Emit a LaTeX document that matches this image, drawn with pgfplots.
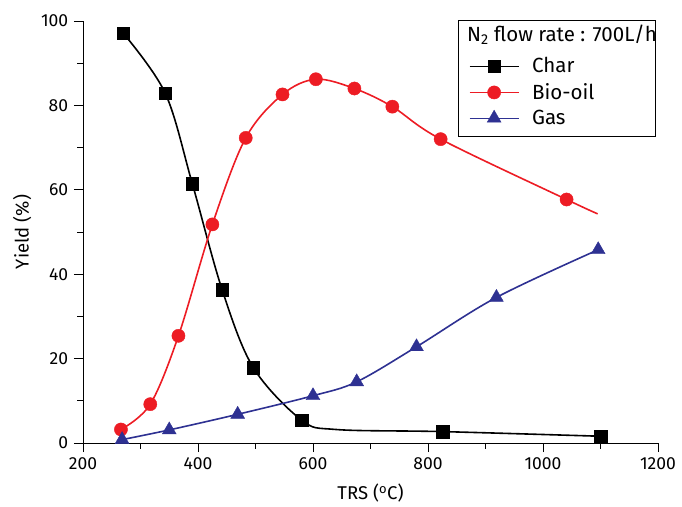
\documentclass[border=0pt]{standalone}
\usepackage{fontspec}
\setmainfont{Fira Sans}
\usepackage{pgfplots}
\pgfplotsset{compat=1.18}
\definecolor{oilred}{HTML}{ED1C24}
\definecolor{gasblue}{HTML}{2E3192}
\begin{document}
\fontsize{17}{20}\selectfont
\begin{tikzpicture}
\useasboundingbox (-83pt,-63pt) rectangle (599pt,443pt);
\begin{axis}[
  scale only axis, width=575pt, height=422pt,
  xmin=200, xmax=1200, ymin=0, ymax=100,
  axis lines*=left,
  axis line style={-, line width=0.9pt},
  xtick={200,400,...,1200}, ytick={0,20,...,100},
  minor x tick num=1, minor y tick num=1,
  tick align=outside, major tick length=9pt, minor tick length=5.5pt,
  every tick/.style={black, line width=0.9pt},
  tick label style={font=\fontsize{17.5}{20}\selectfont},
  /pgf/number format/assume math mode=true,
  /pgf/number format/1000 sep={},
  xlabel={TRS (\textsuperscript{o}C)}, ylabel={Yield (\%)},
  label style={font=\fontsize{18.5}{22}\selectfont},
  xlabel style={at={(axis description cs:0.5,-0.1185)}, anchor=center},
  ylabel style={at={(axis description cs:-0.106,0.5)}, anchor=center},
  clip=false,
  legend image code/.code={%
    \draw[mark repeat=2, mark phase=2, #1] plot coordinates {(0pt,0pt) (24.5pt,0pt) (49pt,0pt)};},
  legend style={at={(rel axis cs:0.6713,0.8318)}, anchor=west,
    draw=none, fill=none, font=\fontsize{20.5}{24}\selectfont,
    inner sep=0pt, nodes={inner sep=0pt}, column sep=13pt, row sep=8pt},
  legend cell align=left,
]
% fitted curves
\addplot[black, line width=1.6pt, smooth, tension=0.55, forget plot] coordinates {
  (270,97.1) (343,82.9) (390,61.5) (442,36.3) (496,17.9) (580,5.45) (640,3.2) (826,2.7) (1100,1.6)};
\addplot[oilred, line width=1.6pt, smooth, tension=0.55, forget plot] coordinates {
  (266,3.2) (317,9.2) (366,25.4) (425,51.8) (483,72.3) (547,82.6) (605,86.2) (672,84.0)
  (738,79.7) (822,72.0) (1041,57.7) (1095,54.3)};
\addplot[gasblue, line width=1.6pt, smooth, tension=0.55, forget plot] coordinates {
  (268,0.8) (350,3.1) (469,6.8) (600,11.2) (676,14.5) (780,22.8) (919,34.5) (1096,45.8)};
% measured points
\addplot[only marks, mark=square*, mark size=6.3pt, black, forget plot] coordinates {
  (270,97.1) (343,82.9) (390,61.5) (442,36.3) (496,17.9) (580,5.45) (826,2.7) (1100,1.6)};
\addplot[only marks, mark=*, mark size=6.6pt, oilred, forget plot] coordinates {
  (266,3.2) (317,9.2) (366,25.4) (425,51.8) (483,72.3) (547,82.6) (605,86.2) (672,84.0)
  (738,79.7) (822,72.0) (1041,57.7)};
\addplot[only marks, mark=triangle*, mark size=8pt, gasblue, forget plot] coordinates {
  (268,0.8) (350,3.1) (469,6.8) (600,11.2) (676,14.5) (780,22.8) (919,34.5) (1096,45.8)};
% legend entries
\addlegendimage{black, line width=0.9pt, mark=square*, mark size=6.3pt, mark options={line width=0.4pt}}
\addlegendentry{Char}
\addlegendimage{oilred, line width=0.9pt, mark=*, mark size=6.6pt, mark options={line width=0.4pt}}
\addlegendentry{Bio-oil}
\addlegendimage{gasblue, line width=0.9pt, mark=triangle*, mark size=8pt, mark options={line width=0.4pt}}
\addlegendentry{Gas}
% legend frame and heading
\draw[line width=0.9pt] (rel axis cs:0.6522,1.0024) rectangle (rel axis cs:0.9948,0.7275);
\node[anchor=west, inner sep=0pt, font=\fontsize{20.5}{24}\selectfont]
  at (rel axis cs:0.6678,0.9668) {N\textsubscript{2} flow rate : 700L/h};
\end{axis}
\end{tikzpicture}
\end{document}
